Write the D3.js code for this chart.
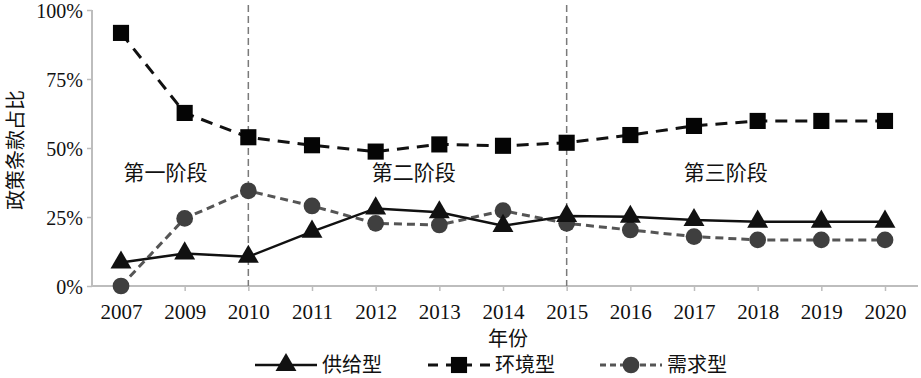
<!DOCTYPE html>
<html>
<head>
<meta charset="utf-8">
<script src="https://cdn.jsdelivr.net/npm/d3@7"></script>
<style>
  body { margin: 0; background: #fff; }
  svg { display: block; }
  .tick text { font-family: "Liberation Serif", "Times New Roman", serif; fill: #111; }
</style>
</head>
<body>
<svg id="chart" width="921" height="378"></svg>
<script>
'use strict';

// data
const years = ['2007', '2009', '2010', '2011', '2012', '2013', '2014', '2015', '2016', '2017', '2018', '2019', '2020'];
const supply = [0.085, 0.118, 0.106, 0.197, 0.281, 0.267, 0.218, 0.254, 0.251, 0.239, 0.233, 0.233, 0.233];
const environment = [0.917, 0.627, 0.539, 0.51, 0.487, 0.513, 0.508, 0.519, 0.547, 0.58, 0.598, 0.598, 0.598];
const demand = [0, 0.245, 0.345, 0.29, 0.227, 0.221, 0.273, 0.227, 0.203, 0.179, 0.167, 0.167, 0.167];
const yTicks = [0, 0.25, 0.5, 0.75, 1];
const stageBreaks = ['2010', '2015'];
const stages = [
    { label: '第一阶段', at: 0.7 },
    { label: '第二阶段', at: 4.6 },
    { label: '第三阶段', at: 9.5 }
];

const svg = d3.select('#chart');
const plotLeft = 92, plotRight = 918, plotTop = 10, plotBottom = 286;

const x = d3.scalePoint().domain(years).range([121, 885]);
const xi = d3.scaleLinear().domain([0, years.length - 1]).range([121, 885]);
const y = d3.scaleLinear().domain([0, 1]).range([plotBottom, plotTop]);

// axes
const axisColor = '#bdbdbd';
const gx = svg.append('g')
    .attr('transform', `translate(0, ${plotBottom})`)
    .call(d3.axisBottom(x).tickSize(5).tickPadding(8));
gx.select('.domain').remove();
gx.selectAll('.tick line').attr('stroke', axisColor).attr('stroke-width', 1.5);
gx.selectAll('.tick text').attr('font-size', 21).attr('dy', '0.95em');
svg.append('line')
    .attr('x1', plotLeft).attr('x2', plotRight).attr('y1', plotBottom).attr('y2', plotBottom)
    .attr('stroke', axisColor).attr('stroke-width', 2);

const gy = svg.append('g')
    .attr('transform', `translate(${plotLeft}, 0)`)
    .call(d3.axisLeft(y).tickValues(yTicks).tickFormat(d3.format('.0%')).tickSize(5).tickPadding(4));
gy.select('.domain').remove();
gy.selectAll('.tick line').attr('stroke', axisColor).attr('stroke-width', 1.5);
gy.selectAll('.tick text').attr('font-size', 20).attr('dy', '0.36em');
svg.append('line')
    .attr('x1', plotLeft).attr('x2', plotLeft).attr('y1', plotTop).attr('y2', plotBottom)
    .attr('stroke', axisColor).attr('stroke-width', 2);

// axis titles
svg.append('text')
    .attr('transform', `translate(14, ${(plotTop + plotBottom) / 2 + 2}) rotate(-90)`)
    .attr('text-anchor', 'middle')
    .attr('dominant-baseline', 'central')
    .attr('font-family', '"Noto Sans CJK SC", sans-serif')
    .attr('font-size', 20)
    .attr('fill', '#111')
    .text('政策条款占比');

svg.append('text')
    .attr('x', (plotLeft + plotRight) / 2 + 3).attr('y', 346)
    .attr('text-anchor', 'middle')
    .attr('font-family', '"Noto Sans CJK SC", sans-serif')
    .attr('font-size', 20)
    .attr('fill', '#111')
    .text('年份');

// stage separators
svg.selectAll('.stage-line')
    .data(stageBreaks)
    .enter().append('line')
    .attr('class', 'stage-line')
    .attr('x1', d => x(d)).attr('x2', d => x(d))
    .attr('y1', 5).attr('y2', plotBottom)
    .attr('stroke', '#7a7a7a')
    .attr('stroke-width', 1.5)
    .attr('stroke-dasharray', '7,4');

svg.selectAll('.stage-label')
    .data(stages)
    .enter().append('text')
    .attr('class', 'stage-label')
    .attr('x', d => xi(d.at))
    .attr('y', 180)
    .attr('text-anchor', 'middle')
    .attr('font-family', '"Noto Sans CJK SC", sans-serif')
    .attr('font-size', 21)
    .attr('fill', '#111')
    .text(d => d.label);

// series
const series = [
    { name: '供给型', values: supply, color: '#111', line: '#111', dash: null, width: 2.5, shape: d3.symbolTriangle, size: 190 },
    { name: '环境型', values: environment, color: '#050505', line: '#111', dash: '12,8', width: 3, shape: d3.symbolSquare, size: 260 },
    { name: '需求型', values: demand, color: '#3f3f3f', line: '#555', dash: '8,5', width: 3, shape: d3.symbolCircle, size: 220 }
];

const line = d3.line()
    .x((d, i) => x(years[i]))
    .y(d => y(d));

// draw demand first so the others sit on top like the original
const order = [series[2], series[0], series[1]];
order.forEach(s => {
    svg.append('path')
        .datum(s.values)
        .attr('fill', 'none')
        .attr('stroke', s.line)
        .attr('stroke-width', s.width)
        .attr('stroke-dasharray', s.dash)
        .attr('d', line);

    svg.append('g').selectAll('path')
        .data(s.values)
        .enter().append('path')
        .attr('transform', (d, i) => `translate(${x(years[i])}, ${y(d)})`)
        .attr('d', d3.symbol().type(s.shape).size(s.size))
        .attr('fill', s.color);
});

// legend
const legendItems = [
    { s: series[0], x0: 255 },
    { s: series[1], x0: 428 },
    { s: series[2], x0: 600 }
];
const ly = 365;
const legend = svg.append('g');
legendItems.forEach(item => {
    const s = item.s;
    legend.append('line')
        .attr('x1', item.x0).attr('x2', item.x0 + 62)
        .attr('y1', ly).attr('y2', ly)
        .attr('stroke', s.line)
        .attr('stroke-width', s.width)
        .attr('stroke-dasharray', s.dash ? (s.name === '环境型' ? '10,8,26,8,10' : '6,4') : null);
    legend.append('path')
        .attr('transform', `translate(${item.x0 + 31}, ${ly})`)
        .attr('d', d3.symbol().type(s.shape).size(s.size))
        .attr('fill', s.color);
    legend.append('text')
        .attr('x', item.x0 + 67).attr('y', ly + 7)
        .attr('font-family', '"Noto Sans CJK SC", sans-serif')
        .attr('font-size', 20)
        .attr('fill', '#111')
        .text(s.name);
});
</script>
</body>
</html>
